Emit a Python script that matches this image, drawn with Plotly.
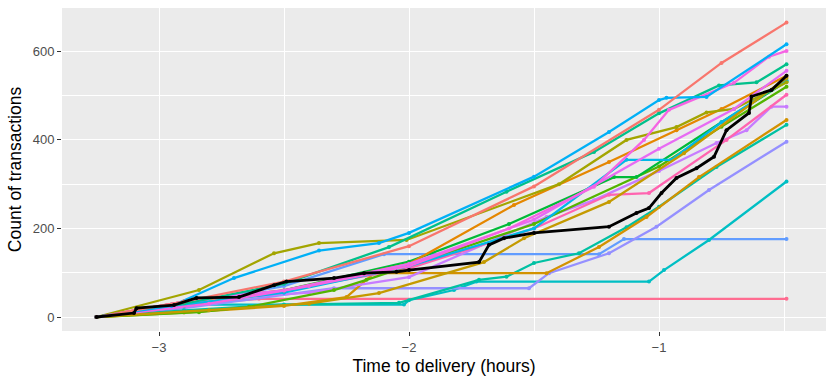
import plotly.graph_objects as go

# hours before delivery (x) and running count of transactions (y), one pair per delivery
salmon_x = [-3.25, -2.9, -2.5, -2.0, -1.5, -1.0, -0.75, -0.49]
salmon_y = [0, 35, 80, 160, 295, 468, 574, 665]

blue_x = [-3.25, -2.95, -2.7, -2.36, -2.12, -2.0, -1.5, -1.2, -1.0, -0.97, -0.81, -0.49]
blue_y = [0, 25, 88, 150, 167, 190, 317, 418, 490, 495, 497, 616]

pink_x = [-3.25, -2.8, -2.4, -2.0, -1.6, -1.26, -1.06, -0.96, -0.7, -0.56, -0.49]
pink_y = [0, 30, 70, 115, 200, 294, 400, 468, 529, 588, 601]

green_x = [-3.25, -2.9, -2.5, -2.08, -1.61, -1.26, -1.0, -0.76, -0.61, -0.49]
green_y = [0, 30, 75, 158, 283, 373, 460, 523, 530, 571]

magenta_x = [-3.25, -2.85, -2.5, -2.0, -1.5, -1.0, -0.7, -0.49]
magenta_y = [0, 40, 60, 120, 220, 380, 470, 556]

orange_x = [-3.25, -2.9, -2.5, -2.0, -1.58, -1.2, -0.93, -0.75, -0.49]
orange_y = [0, 35, 60, 120, 253, 350, 422, 470, 545]

olive_x = [-3.25, -2.84, -2.54, -2.36, -2.01, -1.4, -1.13, -0.93, -0.81, -0.7, -0.49]
olive_y = [0, 61, 144, 167, 174, 300, 400, 429, 462, 470, 530]

gold_x = [-3.25, -2.8, -2.4, -2.12, -1.7, -1.54, -1.2, -0.9, -0.49]
gold_y = [0, 15, 30, 54, 124, 178, 260, 370, 540]

dgold_x = [-3.25, -2.9, -2.5, -2.25, -2.14, -1.45, -1.24, -1.05, -0.84, -0.49]
dgold_y = [0, 10, 25, 45, 99, 99, 158, 226, 316, 445]

lime_x = [-3.25, -2.84, -2.64, -2.3, -2.17, -1.5, -1.0, -0.75, -0.49]
lime_y = [0, 11, 23, 61, 84, 210, 340, 430, 520]

kelly_x = [-3.25, -2.9, -2.5, -2.0, -1.6, -1.18, -1.09, -0.75, -0.49]
kelly_y = [0, 25, 60, 125, 210, 316, 316, 440, 532]

cyan_x = [-3.25, -2.9, -2.5, -2.0, -1.5, -1.13, -0.95, -0.75, -0.49]
cyan_y = [0, 28, 55, 115, 200, 355, 355, 440, 535]

hotpink_x = [-3.25, -2.9, -2.5, -2.0, -1.5, -1.2, -1.04, -0.73, -0.49]
hotpink_y = [0, 35, 60, 110, 200, 276, 280, 400, 502]

lavender_x = [-3.25, -2.8, -2.4, -2.0, -1.45, -1.26, -1.0, -0.77, -0.65, -0.55, -0.49]
lavender_y = [0, 40, 55, 90, 226, 264, 330, 393, 422, 475, 475]

teal2_x = [-3.25, -2.9, -2.5, -2.04, -1.72, -1.61, -1.5, -1.32, -1.13, -1.0, -0.77, -0.49]
teal2_y = [0, 15, 28, 32, 84, 91, 122, 144, 203, 249, 339, 434]

purple_x = [-3.25, -2.9, -2.3, -1.52, -1.44, -1.2, -1.01, -0.8, -0.49]
purple_y = [0, 20, 65, 65, 99, 144, 204, 287, 396]

teal_x = [-3.25, -2.95, -2.02, -2.0, -1.82, -1.73, -1.04, -0.98, -0.8, -0.49]
teal_y = [0, 28, 28, 38, 61, 80, 80, 106, 174, 306]

flatblue_x = [-3.25, -2.9, -2.5, -2.1, -1.24, -1.14, -0.49]
flatblue_y = [0, 30, 70, 142, 142, 176, 176]

flatpink_x = [-3.25, -2.95, -2.6, -0.49]
flatpink_y = [0, 25, 41, 41]

# the highlighted delivery
black_x = [-3.25, -3.10, -3.09, -2.94, -2.85, -2.68, -2.54, -2.49, -2.30, -2.18, -2.05,
           -2.00, -1.72, -1.68, -1.62, -1.50, -1.20, -1.09, -1.04, -0.99, -0.93, -0.85,
           -0.78, -0.73, -0.64, -0.63, -0.55, -0.49]
black_y = [0, 9, 20, 27, 43, 45, 72, 80, 88, 99, 102,
           106, 124, 163, 178, 190, 204, 235, 246, 280, 314, 336,
           362, 422, 461, 498, 513, 545]

series = [
    (flatpink_x, flatpink_y, "#FF6C91"),
    (flatblue_x, flatblue_y, "#619CFF"),
    (teal_x, teal_y, "#00BFC4"),
    (purple_x, purple_y, "#9590FF"),
    (teal2_x, teal2_y, "#00C1A3"),
    (dgold_x, dgold_y, "#D39200"),
    (lavender_x, lavender_y, "#C77CFF"),
    (hotpink_x, hotpink_y, "#FF64B0"),
    (lime_x, lime_y, "#53B400"),
    (kelly_x, kelly_y, "#00BA38"),
    (cyan_x, cyan_y, "#00B8E7"),
    (gold_x, gold_y, "#C49A00"),
    (orange_x, orange_y, "#E58700"),
    (olive_x, olive_y, "#A3A500"),
    (magenta_x, magenta_y, "#E76BF3"),
    (green_x, green_y, "#00C08B"),
    (pink_x, pink_y, "#F564E3"),
    (blue_x, blue_y, "#00B0F6"),
    (salmon_x, salmon_y, "#F8766D"),
]

fig = go.Figure()
for xs, ys, col in series:
    fig.add_trace(go.Scatter(x=xs, y=ys, mode="lines+markers",
                             line=dict(color=col, width=2.3),
                             marker=dict(color=col, size=4),
                             showlegend=False, hoverinfo="skip"))

fig.add_trace(go.Scatter(x=black_x, y=black_y, mode="lines+markers",
                         line=dict(color="black", width=2.8),
                         marker=dict(color="black", size=4),
                         showlegend=False))

axis_common = dict(
    showgrid=True, gridcolor="white", gridwidth=1.2,
    zeroline=False, showline=False, automargin=False,
    ticks="outside", ticklen=4, tickcolor="#333333", tickwidth=1,
    tickfont=dict(family="Liberation Sans", size=13, color="#4D4D4D"),
    title_font=dict(family="Liberation Sans", size=17.5, color="black"),
)

fig.update_xaxes(range=[-3.388, -0.332], tickvals=[-3, -2, -1],
                 ticktext=["\u22123", "\u22122", "\u22121"],
                 minor=dict(tickvals=[-3.5, -2.5, -1.5, -0.5], showgrid=True,
                            gridcolor="white", gridwidth=0.6, ticks=""),
                 title_text="Time to delivery (hours)", title_standoff=6,
                 **axis_common)
fig.update_yaxes(range=[-31.6, 698], tickvals=[0, 200, 400, 600],
                 minor=dict(tickvals=[100, 300, 500], showgrid=True,
                            gridcolor="white", gridwidth=0.6, ticks=""),
                 title_text="Count of transactions", title_standoff=6,
                 **axis_common)

fig.update_layout(width=830, height=383,
                  margin=dict(l=62, r=4, t=8, b=52),
                  plot_bgcolor="#EBEBEB", paper_bgcolor="white",
                  font=dict(family="Liberation Sans"))

# drop the page's default body margin so the figure sits at the window origin
fig.write_html("out.html", config={"displayModeBar": False},
               post_script="document.body.style.margin='0';")
